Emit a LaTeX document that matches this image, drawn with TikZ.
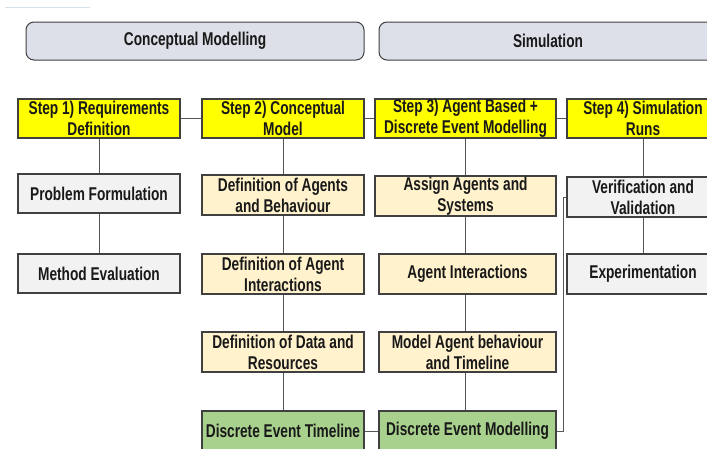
\documentclass[tikz,border=0pt]{standalone}
\usepackage{fontspec}
\newfontfamily\dfont[FakeStretch=0.74]{Liberation Sans}
\definecolor{stepy}{HTML}{FFFF00}
\definecolor{cream}{HTML}{FFF2CC}
\definecolor{greenb}{HTML}{A9D18E}
\definecolor{grayb}{HTML}{F2F2F2}
\definecolor{bann}{HTML}{DDE0E8}
\definecolor{bord}{HTML}{404040}
\definecolor{conn}{HTML}{555555}
\definecolor{faint}{HTML}{D4E2EA}
\tikzset{
  box/.style={draw=bord, line width=1.2pt, align=center, inner sep=0pt,
    font=\dfont\bfseries\fontsize{18.5}{21}\selectfont, text=black!90},
  stepbox/.style={box, fill=stepy},
  creambox/.style={box, fill=cream},
  greenbox/.style={box, fill=greenb},
  graybox/.style={box, fill=grayb},
  banner/.style={box, fill=bann, rounded corners=8pt, line width=1pt},
  link/.style={draw=conn, line width=0.9pt}
}
\begin{document}
\begin{tikzpicture}[x=1pt,y=-1pt]
\useasboundingbox (0,0) rectangle (707,448);
\clip (0,0) rectangle (707,448);
\fill[white] (0,0) rectangle (707,448);
\coordinate (f1) at (5,7);
\coordinate (f2) at (90,7);
\draw[faint, line width=0.8pt] (f1) -- (f2);
% banners
\node[banner, minimum width=338pt, minimum height=38pt] (cm) at (195,41) {Conceptual Modelling};
\node[banner, minimum width=338pt, minimum height=38pt] (sim) at (548,41) {Simulation};
% steps
\node[stepbox, minimum width=162pt, minimum height=39pt] (s1) at (99,118.5) {Step 1) Requirements\\Definition};
\node[stepbox, minimum width=162pt, minimum height=39pt] (s2) at (283,118.5) {Step 2) Conceptual\\Model};
\node[stepbox, minimum width=181pt, minimum height=39pt] (s3) at (465.5,118.5) {Step 3) Agent Based +\\Discrete Event Modelling};
\node[stepbox, minimum width=152pt, minimum height=39pt] (s4) at (643,118.5) {Step 4) Simulation\\Runs};
% row 2
\node[graybox, minimum width=162pt, minimum height=39pt] (pf) at (99,193.5) {Problem Formulation};
\node[creambox, minimum width=162pt, minimum height=40pt] (da) at (283,195) {Definition of Agents\\and Behaviour};
\node[creambox, minimum width=181pt, minimum height=40pt] (aa) at (465.5,196) {Assign Agents and\\Systems};
\node[graybox, minimum width=152pt, minimum height=40pt] (vv) at (643,197) {Verification and\\Validation};
% row 3
\node[graybox, minimum width=162pt, minimum height=39pt] (me) at (99,273.5) {Method Evaluation};
\node[creambox, minimum width=162pt, minimum height=40pt] (di) at (283,274) {Definition of Agent\\Interactions};
\node[creambox, minimum width=177pt, minimum height=40pt] (ai) at (467.5,274) {Agent Interactions};
\node[graybox, minimum width=152pt, minimum height=40pt] (ex) at (643,274) {Experimentation};
% row 4
\node[creambox, minimum width=162pt, minimum height=40pt] (dd) at (283,352) {Definition of Data and\\Resources};
\node[creambox, minimum width=177pt, minimum height=40pt] (ma) at (467.5,352) {Model Agent behaviour\\and Timeline};
% row 5
\node[greenbox, minimum width=162pt, minimum height=40pt] (dt) at (283,431) {Discrete Event Timeline};
\node[greenbox, minimum width=177pt, minimum height=40pt] (dm) at (467.5,431) {Discrete Event Modelling};
% connectors
\draw[link] (s1.east) -- (s2.west);
\draw[link] (s2.east) -- (s3.west);
\draw[link] (s3.east) -- (s4.west);
\draw[link] (s1.south) -- (pf.north);
\draw[link] (pf.south) -- (me.north);
\draw[link] (s2.south) -- (da.north);
\draw[link] (da.south) -- (di.north);
\draw[link] (di.south) -- (dd.north);
\draw[link] (dd.south) -- (dt.north);
\draw[link] (s3.south) -- (aa.north);
\draw[link] (aa.south) -- (aa.south |- ai.north);
\draw[link] (aa.south |- ai.south) -- (aa.south |- ma.north);
\draw[link] (aa.south |- ma.south) -- (aa.south |- dm.north);
\draw[link] (s4.south) -- (vv.north);
\draw[link] (vv.south) -- (ex.north);
\draw[link] (dt.east) -- (dm.west);
\draw[link] (dm.east) -- ++(7,0) |- (vv.west);
\end{tikzpicture}
\end{document}
